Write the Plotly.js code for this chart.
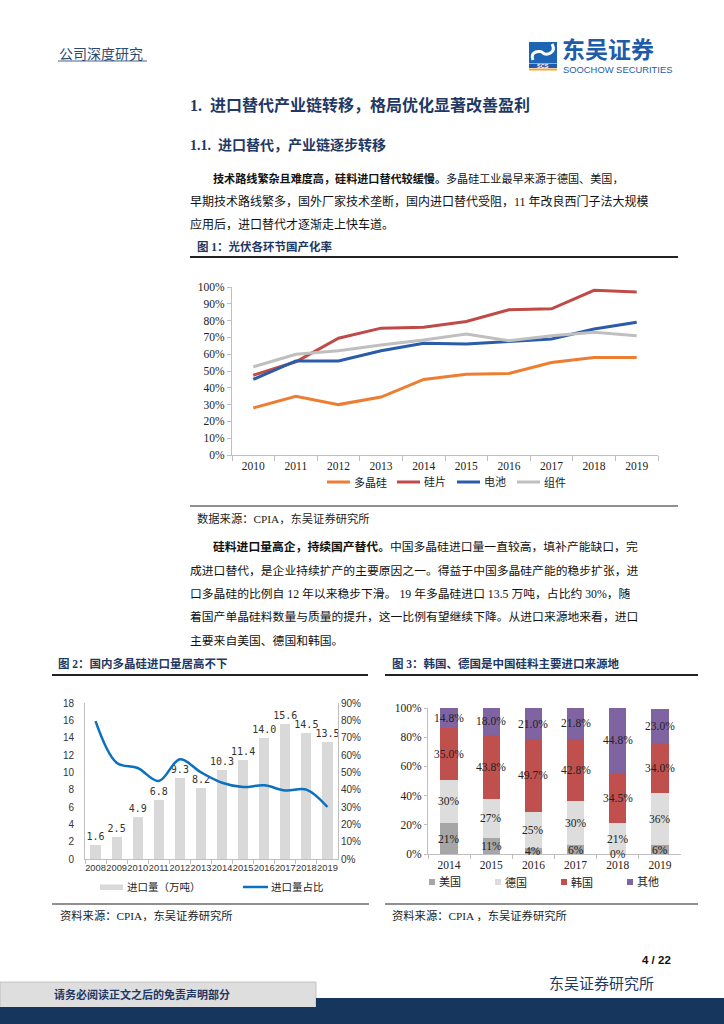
<!DOCTYPE html>
<html><head><meta charset="utf-8">
<script src="https://cdn.plot.ly/plotly-3.0.1.min.js"></script>
<style>html,body{margin:0;padding:0;background:#fff}#chart{width:724px;height:1024px}</style>
</head><body><div id="chart"></div>
<script>
// ---------- Figure 1 data ----------
const years1 = ['2010','2011','2012','2013','2014','2015','2016','2017','2018','2019'];
const polysilicon1 = [28, 35, 30, 34.5, 45, 48, 48.5, 55, 58, 58];
const wafer1 = [47.5, 55.5, 69.5, 75.5, 76, 79.5, 86.5, 87, 98, 97];
const cell1 = [45, 56, 56, 62, 66.5, 66, 67.5, 69, 75, 79];
const module1 = [52.5, 60, 62, 65.5, 68.5, 72, 68, 71, 73, 71];
const names1 = ['多晶硅', '硅片', '电池', '组件'];

// ---------- Figure 2 data ----------
const years2 = ['2008','2009','2010','2011','2012','2013','2014','2015','2016','2017','2018','2019'];
const importVolume = [1.6, 2.5, 4.9, 6.8, 9.3, 8.2, 10.3, 11.4, 14.0, 15.6, 14.5, 13.5];
const importShare = [79.5, 55.5, 52.5, 45, 57.5, 50, 44, 41.5, 42.5, 39.5, 40, 30];
const names2 = ['进口量（万吨）', '进口量占比'];

// ---------- Figure 3 data ----------
const years3 = ['2014','2015','2016','2017','2018','2019'];
const usShare = [21, 11, 4, 6, 0, 6];
const deShare = [30, 27, 25, 30, 21, 36];
const krShare = [35.0, 43.8, 49.7, 42.8, 34.5, 34.0];
const otherShare = [14.8, 18.0, 21.0, 21.8, 44.8, 23.0];
const names3 = ['美国', '德国', '韩国', '其他'];

// ---------- helpers ----------
const W = 724, H = 1024;
const px = x => x / W, py = y => 1 - y / H;
const CJK = 'Liberation Serif, Noto Sans CJK SC, sans-serif';
const SANS = 'Noto Sans CJK SC, sans-serif';
const NAVY = '#1F3864';
const ann = [], shp = [];
function T(x, y, text, o) {
  o = o || {};
  ann.push({xref:'paper', yref:'paper', x:px(x), y:py(y), text:text, showarrow:false,
    xanchor:o.anchor || 'left', yanchor:'middle', borderpad:0,
    font:{family:o.family || CJK, size:o.size || 12, color:o.color || '#111'}});
}
function L(x0, y0, x1, y1, color, w) {
  shp.push({type:'line', xref:'paper', yref:'paper', x0:px(x0), y0:py(y0), x1:px(x1), y1:py(y1), line:{color:color, width:w}});
}
function R(x0, y0, x1, y1, fill, lc, lw) {
  shp.push({type:'rect', xref:'paper', yref:'paper', x0:px(x0), y0:py(y0), x1:px(x1), y1:py(y1), fillcolor:fill, line:{color:lc || fill, width:lw || 0}, layer:'below'});
}

// ---------- page header ----------
T(58, 53, '公司深度研究', {size:14, color:'#2B4A72', family:SANS});
L(58, 61, 147, 61, '#8397B4', 1.5);
// logo
shp.push({type:'rect', xref:'paper', yref:'paper', x0:px(529), y0:py(42), x1:px(557), y1:py(63), fillcolor:'#1E64B4', line:{width:0}});
shp.push({type:'path', xref:'paper', yref:'paper', path:`M ${px(533)} ${py(60)} C ${px(529)} ${py(51)} ${px(541)} ${py(50)} ${px(543)} ${py(53)} C ${px(546)} ${py(56)} ${px(557)} ${py(53)} ${px(552)} ${py(44)}`, line:{color:'#FFFFFF', width:3}});
shp.push({type:'rect', xref:'paper', yref:'paper', x0:px(529), y0:py(63.5), x1:px(557), y1:py(68), fillcolor:'#1E5BA8', line:{width:0}});
shp.push({type:'rect', xref:'paper', yref:'paper', x0:px(529), y0:py(68.5), x1:px(557), y1:py(70.5), fillcolor:'#F2A33A', line:{width:0}});
T(543, 65.8, '<b>SCS</b>', {size:5.5, color:'#FFFFFF', family:'Liberation Sans', anchor:'center'});
T(561, 48, '<b>东吴证券</b>', {size:23, color:'#1E5BA8', family:SANS});
T(562, 69.5, 'SOOCHOW SECURITIES', {size:9.4, color:'#1E5BA8', family:'Liberation Sans'});

// ---------- headings & paragraph 1 ----------
T(189, 105, '<b>1.  进口替代产业链转移，格局优化显著改善盈利</b>', {size:16, color:NAVY});
T(189, 145, '<b>1.1.  进口替代，产业链逐步转移</b>', {size:14, color:NAVY});
T(212, 178, '<b>技术路线繁杂且难度高，硅料进口替代较缓慢。</b>多晶硅工业最早来源于德国、美国，', {size:11.1});
T(189, 201, '早期技术路线繁多，国外厂家技术垄断，国内进口替代受阻，11 年改良西门子法大规模', {size:12});
T(189, 224, '应用后，进口替代才逐渐走上快车道。', {size:12});
T(196, 246, '<b>图 1：光伏各环节国产化率</b>', {size:11.5, color:NAVY});
L(190, 257, 678, 257, '#222222', 2);

// ---------- figure 1 bottom ----------
L(190, 506, 678, 506, '#222222', 1.2);
T(196, 518, '数据来源：CPIA，东吴证券研究所', {size:11.3, color:'#222'});

// ---------- paragraph 2 ----------
T(212, 547, '<b>硅料进口量高企，持续国产替代。</b>中国多晶硅进口量一直较高，填补产能缺口，完', {size:11.8});
T(189, 571, '成进口替代，是企业持续扩产的主要原因之一。得益于中国多晶硅产能的稳步扩张，进', {size:11.8});
T(189, 594, '口多晶硅的比例自 12 年以来稳步下滑。 19 年多晶硅进口 13.5 万吨，占比约 30%，随', {size:11.8});
T(189, 617, '着国产单晶硅料数量与质量的提升，这一比例有望继续下降。从进口来源地来看，进口', {size:11.8});
T(189, 641, '主要来自美国、德国和韩国。', {size:11.8});

// ---------- figure 2/3 titles ----------
T(57, 663, '<b>图 2：国内多晶硅进口量居高不下</b>', {size:11.5, color:NAVY});
L(52, 675, 368, 675, '#222222', 2);
T(391, 663, '<b>图 3：韩国、德国是中国硅料主要进口来源地</b>', {size:11.5, color:NAVY});
L(385, 675, 698, 675, '#222222', 2);
L(52, 904, 369, 904, '#222222', 1.2);
L(385, 904, 698, 904, '#222222', 1.2);
T(59, 915, '资料来源：CPIA，东吴证券研究所', {size:11.3, color:'#222'});
T(391, 915, '资料来源：CPIA ，东吴证券研究所', {size:11.3, color:'#222'});

// ---------- footer ----------
T(672, 960, '<b>4 / 22</b>', {size:11.5, color:'#111', family:'Liberation Sans', anchor:'right'});
T(655, 984, '东吴证券研究所', {size:15, color:'#1F3864', anchor:'right'});
R(0, 982, 316, 1007.5, '#DEDEDE', '#B8B8B8', 0.8);
R(316, 998, 724, 1024, '#17365D');
R(0, 1007, 724, 1024, '#17365D');
T(142, 994.5, '<b>请务必阅读正文之后的免责声明部分</b>', {size:11, color:'#1F3864', anchor:'center'});

// ---------- legends (drawn) ----------
const c1 = ['#ED7D31', '#BE4B48', '#2A5CAA', '#BFBFBF'];
const leg1x = [327, 397, 457, 517];
names1.forEach((n, i) => { L(leg1x[i], 482, leg1x[i] + 23, 482, c1[i], 3); T(leg1x[i] + 26, 482, n, {size:11, color:'#222'}); });

R(100, 884.5, 123, 890, '#D9D9D9');
T(126, 887, names2[0], {size:10.5, color:'#222'});
L(243, 887, 268, 887, '#0A70C0', 2.5);
T(270, 887, names2[1], {size:10.5, color:'#222'});

const c3 = ['#A6A6A6', '#DDDDDD', '#C0504D', '#8064A2'];
const leg3x = [429, 495, 561, 627];
names3.forEach((n, i) => { R(leg3x[i], 879, leg3x[i] + 6, 885, c3[i]); T(leg3x[i] + 9, 882, n, {size:11, color:'#222'}); });

// ---------- figure 3 segment labels (category index positions on x3) ----------
const stacks3 = [usShare, deShare, krShare, otherShare];
years3.forEach((yr, i) => {
  let base = 0;
  stacks3.forEach((s, k) => {
    const v = s[i];
    ann.push({xref:'x3', yref:'y4', x:i, y:base + v / 2, showarrow:false,
      text: (k < 2 ? v.toFixed(0) : v.toFixed(1)) + '%',
      font:{family:'Liberation Serif', size:11.5, color:'#222'}});
    base += v;
  });
});

// ---------- traces ----------
const data = [];
const series1 = [polysilicon1, wafer1, cell1, module1];
series1.forEach((s, i) => data.push({type:'scatter', mode:'lines', x:years1, y:s, name:names1[i],
  xaxis:'x', yaxis:'y', line:{color:c1[i], width:3}, showlegend:false, hoverinfo:'skip'}));

data.push({type:'bar', x:years2, y:importVolume, name:names2[0], xaxis:'x2', yaxis:'y2',
  marker:{color:'#D9D9D9'}, width:0.48, texttemplate:'%{y:.1f}', textposition:'outside',
  constraintext:'none', cliponaxis:false,
  textfont:{family:'DejaVu Sans Mono', size:10, color:'#333'}, showlegend:false, hoverinfo:'skip'});
data.push({type:'scatter', mode:'lines', x:years2, y:importShare, name:names2[1], xaxis:'x2', yaxis:'y3',
  line:{color:'#0A70C0', width:2.5, shape:'spline', smoothing:1}, showlegend:false, hoverinfo:'skip'});

stacks3.forEach((s, k) => data.push({type:'bar', x:years3, y:s, name:names3[k], xaxis:'x3', yaxis:'y4',
  marker:{color:c3[k]}, width:0.41, showlegend:false, hoverinfo:'skip'}));

// ---------- layout ----------
const AX = '#BFBFBF';
const serifTick = {family:'Liberation Serif', size:11.5, color:'#222'};
const sansTick = {family:'Liberation Sans', size:10, color:'#333'};
const layout = {
  width:W, height:H, margin:{l:0, r:0, t:0, b:0},
  paper_bgcolor:'#fff', plot_bgcolor:'rgba(0,0,0,0)',
  barmode:'stack', showlegend:false, hovermode:false,
  xaxis:{domain:[px(232), px(658)], anchor:'y', type:'category', range:[-0.5, years1.length - 0.5],
    showline:true, linecolor:AX,
    ticks:'outside', tickson:'boundaries', ticklen:5, tickcolor:AX, showgrid:false, zeroline:false,
    tickfont:serifTick, tickangle:0, fixedrange:true},
  yaxis:{domain:[py(455), py(287)], anchor:'x', range:[0, 100], dtick:10, ticksuffix:'%',
    showline:true, linecolor:AX, ticks:'outside', ticklen:4, tickcolor:AX, showgrid:false, zeroline:false,
    tickfont:serifTick, fixedrange:true},
  xaxis2:{domain:[px(85), px(338)], anchor:'y2', type:'category', showline:true, linecolor:AX,
    ticks:'outside', tickson:'boundaries', ticklen:4, tickcolor:AX, showgrid:false, zeroline:false,
    tickfont:{family:'Liberation Sans', size:9.3, color:'#333'}, tickangle:0, fixedrange:true},
  yaxis2:{domain:[py(859), py(703)], anchor:'x2', range:[0, 18], dtick:2, showline:true, linecolor:AX,
    ticks:'', showgrid:false, zeroline:false, tickfont:sansTick, ticklabelstandoff:8, fixedrange:true},
  yaxis3:{overlaying:'y2', side:'right', anchor:'x2', range:[0, 90], dtick:10, ticksuffix:'%',
    showline:true, linecolor:AX, ticks:'', showgrid:false, zeroline:false, tickfont:sansTick, fixedrange:true},
  xaxis3:{domain:[px(428), px(681)], anchor:'y4', type:'category', showline:true, linecolor:AX,
    ticks:'outside', tickson:'boundaries', ticklen:4, tickcolor:AX, showgrid:false, zeroline:false,
    tickfont:serifTick, tickangle:0, fixedrange:true},
  yaxis4:{domain:[py(854), py(708)], anchor:'x3', range:[0, 100], dtick:20, ticksuffix:'%',
    showline:true, linecolor:AX, ticks:'outside', ticklen:3, tickcolor:AX, showgrid:false, zeroline:false,
    tickfont:serifTick, fixedrange:true},
  annotations:ann, shapes:shp
};
Plotly.newPlot('chart', data, layout, {staticPlot:true, displayModeBar:false});
</script>
</body></html>
